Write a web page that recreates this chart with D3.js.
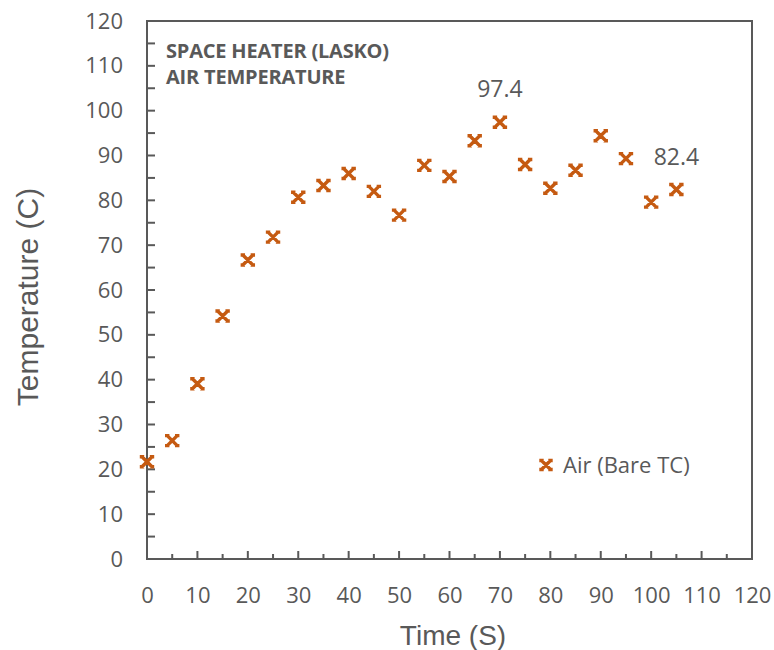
<!DOCTYPE html>
<html>
<head>
<meta charset="utf-8">
<script src="https://cdn.jsdelivr.net/npm/d3@7"></script>
<style>
  body { margin: 0; background: #fff; }
  text { font-family: "Open Sans", sans-serif; fill: #595959; }
  .axis-title { font-family: "Liberation Sans", Arial, sans-serif; }
</style>
</head>
<body>
<div id="chart"></div>
<script>
var times = [0, 5, 10, 15, 20, 25, 30, 35, 40, 45, 50, 55, 60, 65, 70, 75, 80, 85, 90, 95, 100, 105];
var temps = [21.7, 26.4, 39.1, 54.2, 66.7, 71.8, 80.7, 83.3, 86.0, 82.0, 76.7, 87.8, 85.3, 93.3, 97.4, 88.0, 82.7, 86.7, 94.4, 89.3, 79.6, 82.4];
var xTicks = [0, 10, 20, 30, 40, 50, 60, 70, 80, 90, 100, 110, 120];
var yTicks = [0, 10, 20, 30, 40, 50, 60, 70, 80, 90, 100, 110, 120];
var labelled = [70, 105];
var titleLines = ["SPACE HEATER (LASKO)", "AIR TEMPERATURE"];
var seriesName = "Air (Bare TC)";

var width = 774,
  height = 650;
var margin = { left: 147, right: 22, top: 21, bottom: 91 };
var markerColor = "#c55a11",
  axisColor = "#595959";

var svg = d3
  .select("#chart")
  .append("svg")
  .attr("width", width)
  .attr("height", height);

var x = d3
  .scaleLinear()
  .domain([0, 120])
  .range([margin.left, width - margin.right]);
var y = d3
  .scaleLinear()
  .domain([0, 120])
  .range([height - margin.bottom, margin.top]);

// plot border
svg
  .append("rect")
  .attr("x", x(0))
  .attr("y", y(120))
  .attr("width", x(120) - x(0))
  .attr("height", y(0) - y(120))
  .attr("fill", "none")
  .attr("stroke", axisColor)
  .attr("stroke-width", 2);

// x axis labels, ticks drawn inward below
var xAxis = d3
  .axisBottom(x)
  .tickValues(xTicks)
  .tickSize(0)
  .tickPadding(28);
var gx = svg
  .append("g")
  .attr("transform", "translate(0," + y(0) + ")")
  .call(xAxis);
gx.select(".domain").remove();
gx.selectAll("text").attr("font-size", "22px").style("fill", axisColor);

svg
  .append("g")
  .selectAll("line")
  .data(d3.range(5, 120, 5))
  .enter()
  .append("line")
  .attr("x1", function(d) { return x(d); })
  .attr("x2", function(d) { return x(d); })
  .attr("y1", y(0))
  .attr("y2", function(d) { return y(0) - (d % 10 === 0 ? 8 : 5); })
  .attr("stroke", axisColor)
  .attr("stroke-width", 2);

var yAxis = d3
  .axisLeft(y)
  .tickValues(yTicks)
  .tickSize(0)
  .tickPadding(24);
var gy = svg
  .append("g")
  .attr("transform", "translate(" + x(0) + ",0)")
  .call(yAxis);
gy.select(".domain").remove();
gy.selectAll("text").attr("font-size", "22px").style("fill", axisColor);

svg
  .append("g")
  .selectAll("line")
  .data(d3.range(5, 120, 5))
  .enter()
  .append("line")
  .attr("x1", x(0))
  .attr("x2", x(0) + 8)
  .attr("y1", function(d) { return y(d); })
  .attr("y2", function(d) { return y(d); })
  .attr("stroke", axisColor)
  .attr("stroke-width", 2);

// axis titles
svg
  .append("text")
  .attr("class", "axis-title")
  .attr("x", 453)
  .attr("y", 645)
  .attr("text-anchor", "middle")
  .attr("font-size", "28px")
  .text("Time (S)");

svg
  .append("text")
  .attr("class", "axis-title")
  .attr("transform", "translate(38,297) rotate(-90)")
  .attr("text-anchor", "middle")
  .attr("font-size", "30px")
  .text("Temperature (C)");

// title inside plot
svg
  .append("g")
  .selectAll("text")
  .data(titleLines)
  .enter()
  .append("text")
  .attr("x", 166)
  .attr("y", function(d, i) { return 58 + i * 26; })
  .attr("font-size", "20px")
  .attr("font-weight", "bold")
  .attr("letter-spacing", "-0.2px")
  .text(function(d) { return d; });

// marker: thick x with flat caps on its four ends
function marker(sel, s) {
  var c = 2.2;
  var d =
    "M" + -s + "," + -s + "L" + s + "," + s +
    "M" + s + "," + -s + "L" + -s + "," + s;
  [[-s, -s], [s, -s], [-s, s], [s, s]].forEach(function(p) {
    d += "M" + (p[0] - c) + "," + p[1] + "L" + (p[0] + c) + "," + p[1];
  });
  sel
    .append("path")
    .attr("d", d)
    .attr("stroke", markerColor)
    .attr("stroke-width", 3.4)
    .attr("fill", "none");
}

var points = svg
  .append("g")
  .selectAll("g")
  .data(times)
  .enter()
  .append("g")
  .attr("transform", function(d, i) {
    return "translate(" + x(d) + "," + y(temps[i]) + ")";
  });
points.each(function() { marker(d3.select(this), 5); });

// data labels
svg
  .append("g")
  .selectAll("text")
  .data(labelled)
  .enter()
  .append("text")
  .attr("x", function(d) { return x(d); })
  .attr("y", function(d) { return y(temps[times.indexOf(d)]) - 25; })
  .attr("text-anchor", "middle")
  .attr("font-size", "23px")
  .text(function(d) { return temps[times.indexOf(d)].toFixed(1); });

// legend
var legend = svg.append("g").attr("transform", "translate(546,465)");
marker(legend, 4.5);
legend
  .append("text")
  .attr("x", 17)
  .attr("y", 8)
  .attr("font-size", "22px")
  .text(seriesName);
</script>
</body>
</html>
